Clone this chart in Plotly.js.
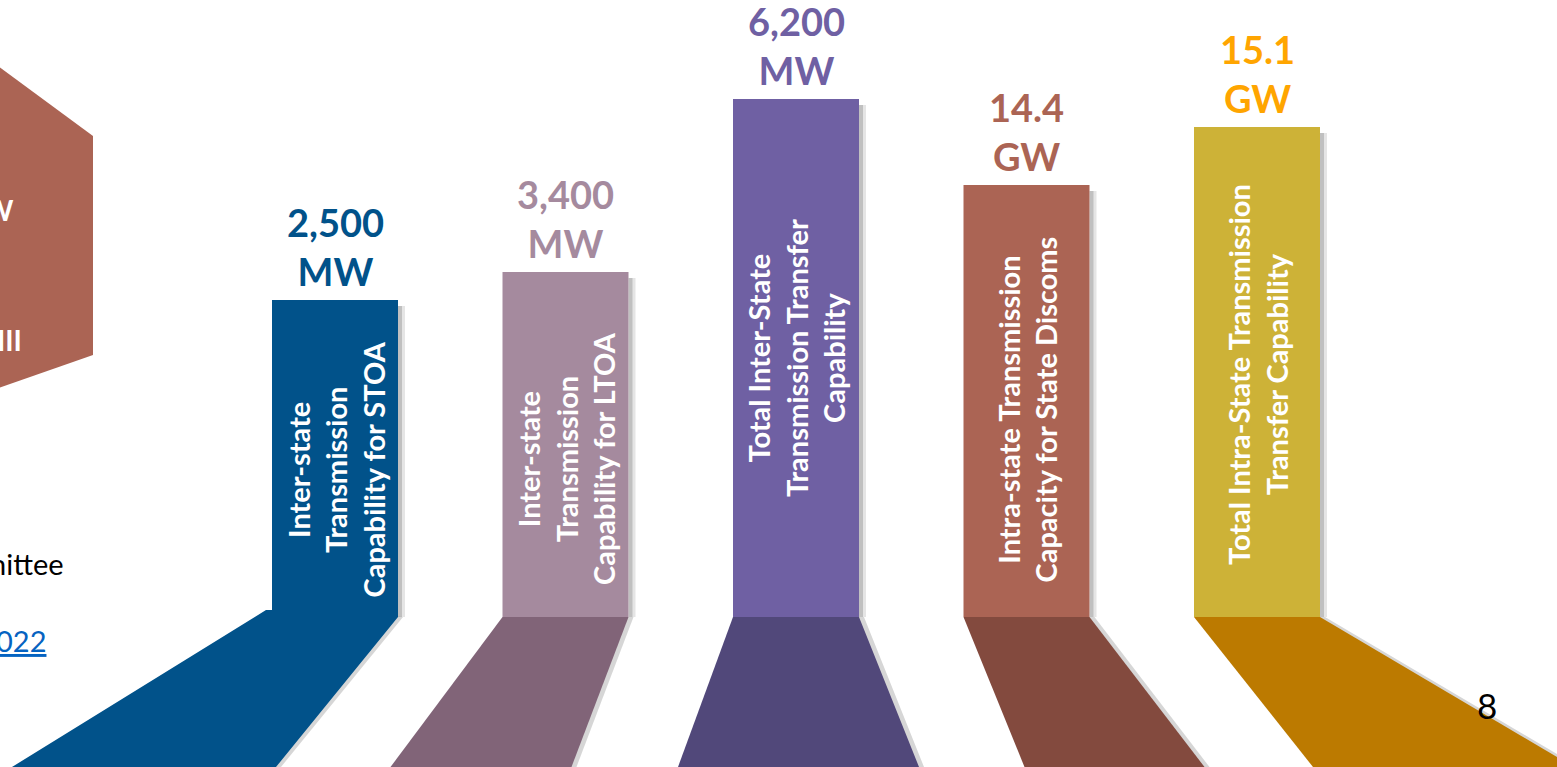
<!DOCTYPE html>
<html><head><meta charset="utf-8">
<script src="https://cdn.plot.ly/plotly-3.0.1.min.js"></script>
<style>html,body{margin:0;padding:0;background:#fff;overflow:hidden}#chart{width:1557px;height:767px}</style>
</head><body><div id="chart"></div>
<script>
// ---------- data ----------
const categoryLines = [
  ["Inter-state", "Transmission", "Capability for STOA"],
  ["Inter-state", "Transmission", "Capability for LTOA"],
  ["Total Inter-State", "Transmission Transfer", "Capability"],
  ["Intra-state Transmission", "Capacity for State Discoms"],
  ["Total Intra-State Transmission", "Transfer Capability"]
];
const categories = categoryLines.map(l => l.join(" "));
const values = [2500, 3400, 6200, 14.4, 15.1];
const units = ["MW", "MW", "MW", "GW", "GW"];
// drawn column heights (visual, as read from the picture; not proportional to values)
const barHeights = [317, 345, 518, 432, 490];
const sideTexts = ["W", "III", "nittee", "022"];
const pageNumber = "8";

// ---------- style ----------
const W = 1557, H = 767;
const barColors   = ["#01528a", "#a58a9e", "#6f60a3", "#ab6454", "#cdb237"];
const floorColors = ["#01528a", "#816478", "#51487a", "#834a3e", "#bc7a00"];
const valueColors = ["#01528a", "#a58a9e", "#6f60a3", "#ab6454", "#ffa500"];
const firstCenterPx = 335, stepPx = 230.5, barPx = 126, floorDepth = 150;
const floorBottomPx = [[-323, -59], [-175, 6], [-118, 123], [-2, 178], [56, 317]];
const labelShiftPx = [-11, -14, 0, -9, -3];
const FONT = "Lato, 'Open Sans', sans-serif";

const fmt = (v, u) => u === "GW" ? v.toFixed(1) : v.toLocaleString("en-US");
const valueLabels = values.map((v, i) => fmt(v, units[i]) + "<br>" + units[i]);

const xRange = [-firstCenterPx / stepPx, (W - firstCenterPx) / stepPx];
const yRange = [-floorDepth, H - floorDepth];
const half = barPx / 2;

const shapes = [];
categories.forEach((c, i) => {
  const [bl, br] = floorBottomPx[i];
  const tl = i === 0 ? -half - 6 : -half;
  const tly = i === 0 ? 7 : 0;
  // floor shadow
  shapes.push({type: "path", xref: "x", yref: "y", xsizemode: "pixel", xanchor: i, layer: "below",
    path: `M${tl + 4},${tly} L${half + 5},0 L${br + 5},${-floorDepth} L${bl + 4},${-floorDepth} Z`,
    fillcolor: "rgba(0,0,0,0.16)", line: {width: 0}});
  // floor
  shapes.push({type: "path", xref: "x", yref: "y", xsizemode: "pixel", xanchor: i, layer: "below",
    path: `M${tl},${tly} L${-half},${tly} L${-half},0 L${half},0 L${br},${-floorDepth} L${bl},${-floorDepth} Z`,
    fillcolor: floorColors[i], line: {width: 0}});
  // column shadow
  shapes.push({type: "rect", xref: "x", yref: "y", xsizemode: "pixel", xanchor: i, layer: "below",
    x0: half, x1: half + 7, y0: 0, y1: barHeights[i] - 6,
    fillcolor: "rgba(0,0,0,0.10)", line: {width: 0}});
  shapes.push({type: "rect", xref: "x", yref: "y", xsizemode: "pixel", xanchor: i, layer: "below",
    x0: half, x1: half + 4, y0: 0, y1: barHeights[i] - 6,
    fillcolor: "rgba(0,0,0,0.16)", line: {width: 0}});
});
// left cut-off hexagon
shapes.push({type: "path", xref: "paper", yref: "paper", xsizemode: "pixel", ysizemode: "pixel",
  xanchor: 0, yanchor: 1, path: "M-10,-60 L93,-136 L93,-355 L-10,-391 Z",
  fillcolor: "#ab6454", line: {width: 0}, layer: "below"});

const annotations = [];
categories.forEach((c, i) => {
  annotations.push({x: c, y: barHeights[i] / 2, xref: "x", yref: "y", showarrow: false,
    text: categoryLines[i].join("<br>"), textangle: -90, xanchor: "center", yanchor: "middle",
    yshift: labelShiftPx[i],
    font: {family: FONT, size: 29, color: "#ffffff", weight: 700}});
  annotations.push({x: c, y: barHeights[i], xref: "x", yref: "y", showarrow: false,
    text: valueLabels[i], xanchor: "center", yanchor: "bottom", yshift: 4,
    font: {family: FONT, size: 38, color: valueColors[i], weight: 700}});
});
annotations.push({xref: "paper", yref: "paper", x: 0, y: 1 - 210 / H, xshift: 16, xanchor: "right", yanchor: "middle",
  showarrow: false, text: sideTexts[0], font: {family: FONT, size: 28, color: "#ffffff", weight: 700}});
annotations.push({xref: "paper", yref: "paper", x: 0, y: 1 - 340 / H, xshift: 24, xanchor: "right", yanchor: "middle",
  showarrow: false, text: sideTexts[1], font: {family: FONT, size: 28, color: "#ffffff", weight: 700}});
annotations.push({xref: "paper", yref: "paper", x: 0, y: 1 - 563 / H, xshift: 66, xanchor: "right", yanchor: "middle",
  showarrow: false, text: sideTexts[2], font: {family: FONT, size: 29, color: "#000000"}});
annotations.push({xref: "paper", yref: "paper", x: 0, y: 1 - 640 / H, xshift: 48, xanchor: "right", yanchor: "middle",
  showarrow: false, text: "<u>" + sideTexts[3] + "</u>", font: {family: FONT, size: 29, color: "#0563c1"}});
annotations.push({xref: "paper", yref: "paper", x: 1487 / W, y: 1 - 705 / H, xanchor: "center", yanchor: "middle",
  showarrow: false, text: pageNumber, font: {family: FONT, size: 35, color: "#000000"}});

const trace = {type: "bar", x: categories, y: barHeights, width: barPx / stepPx,
  marker: {color: barColors, line: {width: 0}}, hoverinfo: "skip"};

Plotly.newPlot("chart", [trace], {
  width: W, height: H, margin: {l: 0, r: 0, t: 0, b: 0},
  paper_bgcolor: "#ffffff", plot_bgcolor: "#ffffff", showlegend: false,
  xaxis: {type: "category", range: xRange, visible: false, fixedrange: true},
  yaxis: {range: yRange, visible: false, fixedrange: true},
  shapes: shapes, annotations: annotations
}, {displayModeBar: false, staticPlot: true});
</script></body></html>
